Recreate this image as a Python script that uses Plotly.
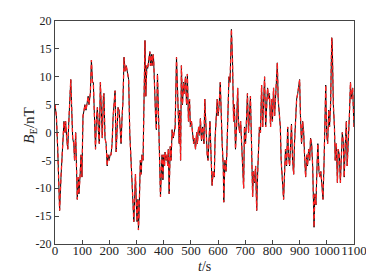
import plotly.graph_objects as go

t_s = [0,5,10,15,17,22,26,29,33,37,39,43,47,50,54,58,61,65,69,72,76,80,82,86,88,92,96,99,
       103,107,110,114,118,122,125,130,134,138,141,145,149,152,156,160,163,167,171,174,178,180,
       184,188,192,195,199,203,206,210,214,217,221,225,228,232,236,239,243,247,250,254,258,262,
       265,269,271,275,279,282,286,290,293,296,300,302,305,307,309,312,314,317,320,324,327,329,
       331,334,338,341,345,349,351,355,357,361,363,366,370,373,377,381,384,388,392,394,397,400,
       403,405,409,411,415,417,420,424,427,431,435,438,442,447,451,453,457,459,462,465,469,473,
       476,480,484,487,491,495,498,502,506,510,513,517,521,524,528,532,535,539,543,548,551,555,
       560,563,566,570,574,578,582,586,589,593,597,600,604,608,611,615,619,621,625,629,632,636,
       640,644,647,649,653,657,660,664,668,672,675,679,683,686,690,694,697,701,705,708,712,716,
       719,723,727,730,734,738,742,745,749,752,756,760,764,767,771,775,778,782,786,789,793,797,
       800,804,808,811,815,818,821,825,829,832,837,841,844,848,852,856,859,863,867,870,874,878,
       881,885,889,893,896,900,903,907,911,915,918,922,926,929,933,937,940,944,948,951,953,956,
       960,964,967,971,975,978,982,986,990,993,996,999,1003,1007,1010,1014,1018,1020,1024,1028,
       1031,1035,1039,1042,1046,1050,1053,1057,1061,1064,1068,1072,1075,1079,1083,1087,1090,1095,1100]

b_e = [5,3,-3,-9,-14,-8,-5,-2,2,0,2,-1,-3,1,6,9.5,5,-1,-2,-5,0,-6,-12,-8,-11,-8,-4,-8,
       3,4,5,4,5,6.5,5,7,13,9,9,3,-3,2,4.5,0,-2,9,2,-1,6.5,7,
       -1,-2,-6,-4,-5,-4,-4,-2,3,6,7.5,-3.5,1,4.5,4,2,-2,3,5.5,13.5,11,12,
       11,10,9.5,0,-4,-8,-10,-16,-12,-7.5,-14,-16,-12,-17.5,-15,-7,-5,-7.5,-4,-5,6,12,
       16.5,6.5,12,11.5,13,14.5,12,14,12,14,13,6,3,0.5,10.5,3,-4,-11.5,-6,-4,-8.5,-4,
       -6,-3.5,-5,-4,-6,-3,-11,-2.5,-5,0.5,-1,0,1,13.5,5,2,-2,4,-5,12,5,9,
       7,10,5,10.5,2,6,1,2,-0.5,-2,-1,-3,0,-2,1,-0.5,2.5,-1.5,1,-2,6,0,
       -4,-5,-2,2,-4,-9.5,-7,-8,-1,3,6,3,5,9,2,-2,-6,-12.5,-5,-7,-4,2,
       10,9,15,18.5,13,2,5,-3,1,8,2,0,2,-2,-6,-10,1,-2,3,7,0,3,
       6.5,-2,-11.5,-7,-9,-6,-14,-8,-3,1,0,8.5,1,5,10,1,4,8,6,7,1,6,
       2,8,3,6,10,12.5,6,3,1,-5,-10,-12,-8,-3,-6,1,-4,-6,-2,1.5,-5,-7.5,
       -2,2,6,7,8,9.5,3,-2,2,0,-4,-8,-4,-6,-3,-5,-1,-2,-6,-12,-17,-11,
       -13,-6,-2,-7,-8,-7,-10,-12,-5,1,8.5,0,-2,4,1,5,17,16,5,1,
       -5,-2,-9,-3,-4,-9,-5,0,-2,-8,-2,2,-6,-2,3,9,6,8,1]

x_ticks = [0,100,200,300,400,500,600,700,800,900,1000,1100]
y_ticks = [-20,-15,-10,-5,0,5,10,15,20]
y_tick_text = ["-20","-15","-10","-5","0","5","10","15","20"]

fig = go.Figure()
fig.add_trace(go.Scatter(x=t_s, y=b_e, mode="lines",
                         line=dict(color="black", width=1), showlegend=False))
fig.add_trace(go.Scatter(x=t_s, y=b_e, mode="lines",
                         line=dict(color="#ff2020", width=1.3, dash="4px,3px"), showlegend=False))

font = dict(family="Liberation Serif, Times New Roman, serif", size=13, color="#222")
fig.update_layout(
    width=366, height=270,
    margin=dict(l=47, r=20, t=13, b=34),
    paper_bgcolor="white", plot_bgcolor="white",
    font=font,
    xaxis=dict(range=[0,1100], tickvals=x_ticks, ticks="inside", ticklen=4,
               showline=True, linecolor="#444", linewidth=1, mirror=True,
               showgrid=False, zeroline=False, automargin=False,
               tickangle=0, tickfont=dict(size=13), ticklabelstandoff=-6),
    yaxis=dict(range=[-20,20], tickvals=y_ticks, ticktext=y_tick_text, ticks="inside", ticklen=4,
               showline=True, linecolor="#444", linewidth=1, mirror=True,
               showgrid=False, zeroline=False, automargin=False,
               tickfont=dict(size=12)),
    annotations=[
        dict(text="<i>t</i>/s", xref="paper", yref="paper", x=0.5, y=-0.1,
             xanchor="center", yanchor="middle", showarrow=False, font=dict(size=14)),
        dict(text="<i>B</i><sub>E</sub>/nT", xref="paper", yref="paper", x=-0.084, y=0.53,
             xanchor="center", yanchor="middle", textangle=-90, showarrow=False,
             font=dict(size=15)),
    ],
)
fig.write_html("out.html")
